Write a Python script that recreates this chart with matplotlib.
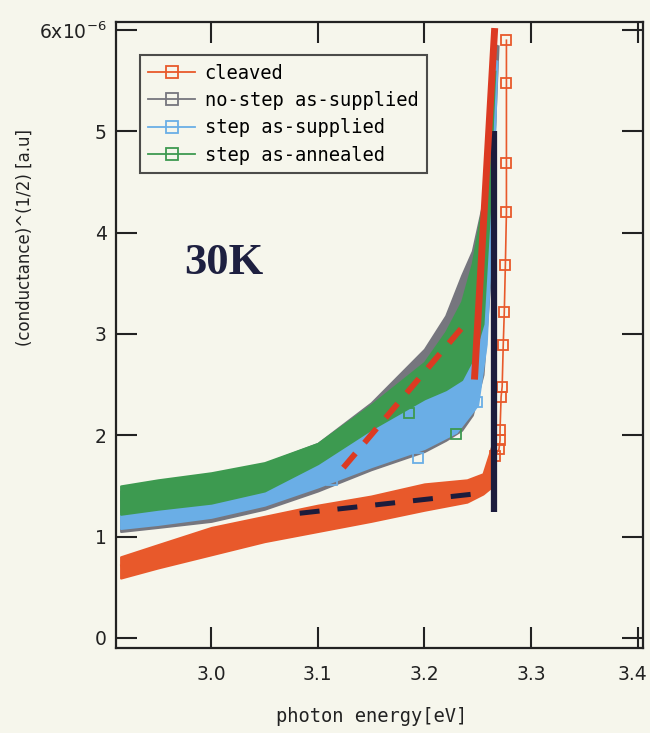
import numpy as np
import matplotlib
matplotlib.use('Agg')
import matplotlib.pyplot as plt
import matplotlib.transforms as mtransforms
from matplotlib.lines import Line2D

# photon energy [eV] and band edges of (conductance)^(1/2) in units of 1e-6
cleaved_e = [2.915, 2.95, 3.00, 3.05, 3.10, 3.15, 3.20, 3.24, 3.255, 3.262, 3.266]
cleaved_lo = [0.59, 0.69, 0.82, 0.95, 1.05, 1.15, 1.26, 1.34, 1.42, 1.48, 1.70]
cleaved_hi = [0.80, 0.92, 1.09, 1.20, 1.31, 1.40, 1.52, 1.56, 1.62, 1.85, 2.00]
cleaved_tail_e = [3.266, 3.270, 3.271, 3.271, 3.272, 3.273, 3.274, 3.275, 3.276, 3.277, 3.277, 3.277, 3.277]
cleaved_tail_g = [1.80, 1.86, 1.95, 2.05, 2.38, 2.48, 2.89, 3.22, 3.68, 4.20, 4.69, 5.48, 5.90]

nostep_e = [2.915, 2.95, 3.00, 3.05, 3.10, 3.15, 3.20, 3.22, 3.235, 3.245, 3.255, 3.262, 3.268]
nostep_lo = [1.05, 1.09, 1.15, 1.27, 1.45, 1.66, 1.84, 1.95, 2.05, 2.20, 2.60, 3.60, 5.85]
nostep_hi = [1.45, 1.52, 1.60, 1.72, 1.92, 2.32, 2.85, 3.18, 3.58, 3.82, 4.30, 5.10, 5.85]

step_sup_e = [2.915, 2.95, 3.00, 3.05, 3.10, 3.15, 3.20, 3.23, 3.25, 3.258, 3.263, 3.267]
step_sup_lo = [1.08, 1.12, 1.19, 1.31, 1.49, 1.69, 1.87, 2.03, 2.30, 2.90, 4.00, 5.70]
step_sup_hi = [1.23, 1.28, 1.34, 1.46, 1.74, 2.08, 2.40, 2.60, 2.95, 3.60, 4.80, 5.70]

step_ann_e = [2.915, 2.95, 3.00, 3.05, 3.10, 3.15, 3.20, 3.22, 3.235, 3.245, 3.255, 3.261, 3.265]
step_ann_lo = [1.22, 1.27, 1.33, 1.45, 1.72, 2.06, 2.36, 2.45, 2.55, 2.75, 3.10, 4.20, 5.60]
step_ann_hi = [1.50, 1.56, 1.63, 1.73, 1.92, 2.30, 2.72, 3.02, 3.32, 3.70, 4.30, 5.20, 5.60]

# isolated squares outside the bands
sup_out_e = [3.113, 3.194, 3.249]
sup_out_g = [1.56, 1.78, 2.33]
ann_out_e = [3.186, 3.230]
ann_out_g = [2.22, 2.01]

# fitted lines
fit_red_dash_e = [3.124, 3.236]
fit_red_dash_g = [1.68, 3.07]
fit_red_e = [3.247, 3.266]
fit_red_g = [2.55, 6.02]
fit_black_dash_e = [3.083, 3.255]
fit_black_dash_g = [1.23, 1.43]
fit_black_e = [3.2655, 3.2655]
fit_black_g = [1.24, 5.00]

labels = ['cleaved', 'no-step as-supplied', 'step as-supplied', 'step as-annealed']
c_orange = '#e8592b'
c_gray = '#76767e'
c_blue = '#6aaee6'
c_green = '#3d9a50'
c_red = '#dc3a22'
c_black = '#1c1c3c'
bg = '#f6f6ec'
mono = 'DejaVu Sans Mono'

fig = plt.figure(figsize=(6.5, 7.33), dpi=100, facecolor=bg)
ax = fig.add_axes([0.179, 0.116, 0.810, 0.854], facecolor=bg)

def band(e, lo, hi, col, z):
    e = np.array(e); lo = np.array(lo); hi = np.array(hi)
    ax.fill_between(e, lo, hi, color=col, lw=1.5, edgecolor=col, zorder=z)
    ax.plot(e, (lo + hi) / 2, color=col, lw=4, zorder=z, solid_capstyle='butt')

band(nostep_e, nostep_lo, nostep_hi, c_gray, 2)
band(step_sup_e, step_sup_lo, step_sup_hi, c_blue, 3)
band(step_ann_e, step_ann_lo, step_ann_hi, c_green, 4)
band(cleaved_e, cleaved_lo, cleaved_hi, c_orange, 5)

ax.plot(cleaved_tail_e, cleaved_tail_g, color=c_orange, lw=1.2, marker='s', ms=7,
        mfc='none', mec=c_orange, mew=1.3, zorder=5)
ax.plot(sup_out_e, sup_out_g, ls='none', marker='s', ms=7, mfc='none', mec=c_blue, mew=1.3, zorder=3)
ax.plot(ann_out_e, ann_out_g, ls='none', marker='s', ms=7, mfc='none', mec=c_green, mew=1.3, zorder=4)

ax.plot(fit_black_e, fit_black_g, color=c_black, lw=4.5, zorder=7, solid_capstyle='butt')
ax.plot(fit_red_e, fit_red_g, color=c_red, lw=5, zorder=8, solid_capstyle='butt')
ax.plot(fit_red_dash_e, fit_red_dash_g, color=c_red, lw=4.2, dashes=(3.2, 2.4), zorder=8)
ax.plot(fit_black_dash_e, fit_black_dash_g, color=c_black, lw=3.6, dashes=(4, 3.6), zorder=8)

ax.set_xlim(2.911, 3.405)
ax.set_ylim(-0.10, 6.08)
ax.set_xticks([3.0, 3.1, 3.2, 3.3, 3.4])
ax.set_xticklabels(['3.0', '3.1', '3.2', '3.3', '3.4'])
ax.set_yticks([0, 1, 2, 3, 4, 5, 6])
ax.set_yticklabels(['0', '1', '2', '3', '4', '5', r'6x10$^{-6}$'])
ax.tick_params(direction='in', length=15, width=1.5, top=True, right=True,
               labelsize=13.5, colors='#222222')
ax.tick_params(axis='x', pad=12)
ax.tick_params(axis='y', pad=7)
for s in ax.spines.values():
    s.set_linewidth(1.6)
    s.set_color('#222222')

# last x label sits at the figure edge: keep it inside
last = ax.get_xticklabels()[-1]
last.set_horizontalalignment('right')
last.set_transform(last.get_transform() + mtransforms.ScaledTranslation(10 / 100, 0, fig.dpi_scale_trans))

handles = [Line2D([], [], color=c, lw=1.3, marker='s', ms=8, mfc='none', mec=c, mew=1.3)
           for c in [c_orange, c_gray, c_blue, c_green]]
leg = ax.legend(handles, labels, loc='upper left', bbox_to_anchor=(0.0446, 0.947),
                borderaxespad=0, prop={'family': mono, 'size': 13.5}, handlelength=2.5,
                handletextpad=0.5, labelspacing=0.45, borderpad=0.45, frameon=True,
                fancybox=False)
leg.get_frame().set_edgecolor('#222222')
leg.get_frame().set_linewidth(1.5)
leg.get_frame().set_facecolor(bg)
leg.set_zorder(10)

fig.text(0.345, 0.641, '30K', fontsize=32, fontweight='bold', family='Liberation Serif',
         color='#1e2040', ha='center', va='center')
fig.text(25 / 650, 1 - 237 / 733, '(conductance)^(1/2) [a.u]', rotation=90, fontsize=12,
         ha='center', va='center', color='#222222')
fig.text(372 / 650, 1 - 717 / 733, 'photon energy[eV]', fontsize=13.5, family=mono,
         ha='center', va='center', color='#222222')

plt.savefig('out.png', dpi=100, facecolor=bg)
